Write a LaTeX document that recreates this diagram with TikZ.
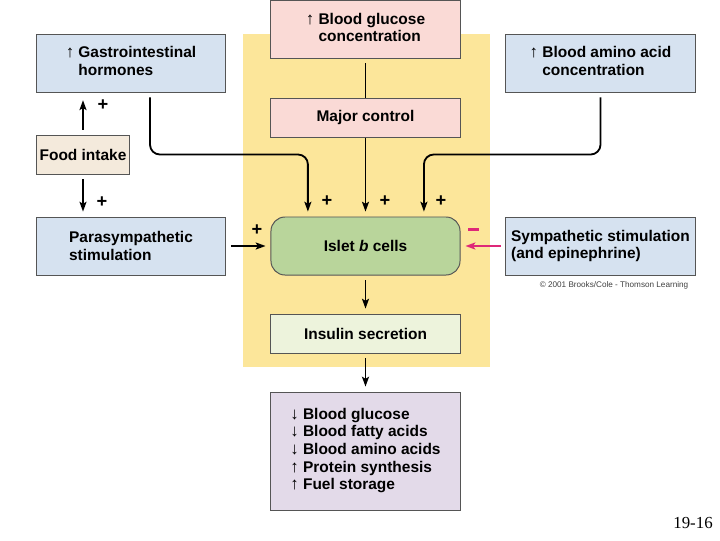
\documentclass[tikz,border=0pt]{standalone}
\usepackage{fontspec}
\setmainfont{Liberation Sans}
\newfontfamily\figserif{Liberation Serif}
\usetikzlibrary{positioning, arrows.meta, calc}
\definecolor{bluebox}{RGB}{214,226,240}
\definecolor{pinkbox}{RGB}{250,218,214}
\definecolor{foodbox}{RGB}{244,234,220}
\definecolor{isletbox}{RGB}{185,213,155}
\definecolor{insulinbox}{RGB}{237,243,220}
\definecolor{effectbox}{RGB}{227,218,233}
\definecolor{yellowbg}{RGB}{252,230,154}
\definecolor{boxline}{RGB}{85,85,85}
\definecolor{inhib}{RGB}{222,40,120}
\tikzset{box/.style={draw=boxline,line width=0.7pt,minimum width=4.725cm,minimum height=1.45cm,inner sep=2pt,font=\fontsize{11}{12.6}\selectfont\bfseries},
  short box/.style={box,minimum height=0.975cm},
  conn/.style={line width=1.3pt,-{Stealth[length=7pt,width=5pt,inset=1.5pt]},shorten >=3.5pt,shorten <=3.5pt},
  sign/.style={font=\fontsize{13}{13}\selectfont\bfseries,inner sep=0pt}}
\newcommand{\upar}{{\mdseries\fontsize{12}{12.6}\selectfont\char"2191}}
\newcommand{\downar}{{\mdseries\fontsize{12}{12.6}\selectfont\char"2193}}

\begin{document}
\begin{tikzpicture}[x=0.025cm,y=-0.025cm]
            \useasboundingbox (0,0) rectangle (720,540);
            \fill[yellowbg] (243,34) rectangle (490,367);

            \node[box,fill=pinkbox] (glucose) at (365.5,29.5) {\begin{tabular}{@{}l@{\hspace{3pt}}l@{}}\upar & Blood glucose\\ & concentration\end{tabular}};
            \node[short box,fill=pinkbox] (major) at (365.5,117.5) {Major control};
            \node[box,fill=bluebox] (gastro) at (131,63) {\begin{tabular}{@{}l@{\hspace{3pt}}l@{}}\upar & Gastrointestinal\\ & hormones\end{tabular}};
            \node[short box,fill=foodbox,minimum width=2.3cm] (food) at (83,154.5) {Food intake};
            \node[box,fill=bluebox,align=left] (para) at (131,246) {Parasympathetic\\stimulation};
            \node[box,fill=isletbox,rounded corners=10pt] (islet) at (365.5,246) {Islet \textit{b} cells};
            \node[box,fill=bluebox] (amino) at (600.5,63) {\begin{tabular}{@{}l@{\hspace{3pt}}l@{}}\upar & Blood amino acid\\ & concentration\end{tabular}};
            \node[box,fill=bluebox,align=left] (symp) at (600.5,246) {Sympathetic stimulation\\(and epinephrine)};
            \node[short box,fill=insulinbox] (insulin) at (365.5,333.5) {Insulin secretion};
            \node[box,fill=effectbox,minimum height=2.95cm] (effects) at (365.5,451) {\begin{tabular}{@{}l@{\hspace{3pt}}l@{}}\downar & Blood glucose\\ \downar & Blood fatty acids\\ \downar & Blood amino acids\\ \upar & Protein synthesis\\ \upar & Fuel storage\end{tabular}};

            \node[font=\fontsize{5.8}{7}\selectfont,text=black!75] (credit) at (614,285) {\textcopyright\ 2001 Brooks/Cole - Thomson Learning};
            \node[font=\figserif\fontsize{12}{12}\selectfont] (slide) at (693,523) {19-16};

            \draw[line width=1.3pt,shorten <=3pt] (glucose) -- (major);
            \draw[conn,shorten <=0pt] (major) -- (islet);
            \draw[conn,rounded corners=7pt] ([xshift=0.475cm]gastro.south) |- ($([xshift=0.475cm]gastro.south)!0.5!([xshift=-1.44cm]islet.north)$) -| ([xshift=-1.44cm]islet.north);
            \draw[conn,rounded corners=7pt] (amino.south) |- ($(amino.south)!0.5!([xshift=1.46cm]islet.north)$) -| ([xshift=1.46cm]islet.north);
            \draw[conn,shorten >=5.5pt] (food) -- (gastro.south -| food);
            \draw[conn] (food) -- (para.north -| food);
            \draw[conn] (para) -- (islet);
            \draw[conn,draw=inhib] (symp) -- (islet);
            \draw[conn] (islet) -- (insulin);
            \draw[conn] (insulin) -- (effects);

            \node[sign] (p-gastro) at (327,201) {+};
            \node[sign] (p-major) at (385,201) {+};
            \node[sign] (p-amino) at (441,201) {+};
            \node[sign] (p-para) at (257,230) {+};
            \node[sign] (p-up) at (103,105) {+};
            \node[sign] (p-down) at (102,202) {+};
            \fill[inhib] (468,227.5) rectangle (479,231) coordinate (m-symp);
        \end{tikzpicture}
\end{document}
